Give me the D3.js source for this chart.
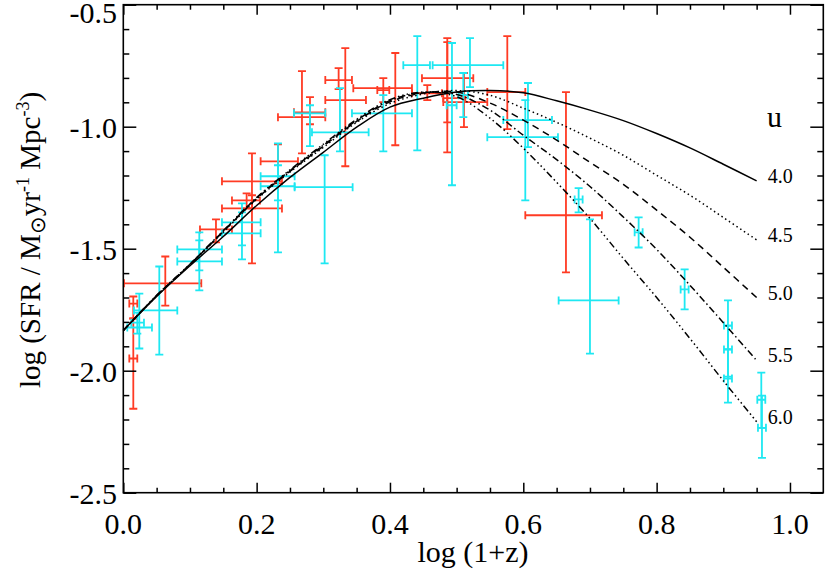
<!DOCTYPE html>
<html>
<head>
<meta charset="utf-8">
<script src="https://cdn.jsdelivr.net/npm/d3@7"></script>
<style>
  body { margin: 0; background: #fff; }
  svg { display: block; }
  text { font-family: "Liberation Serif", "Times New Roman", serif; fill: #000; }
</style>
</head>
<body>
<svg width="830" height="581"></svg>
<script>
// model curves at these log(1+z) values
const curveX = [0, 0.05, 0.1, 0.15, 0.2, 0.25, 0.3, 0.35, 0.4, 0.45, 0.5, 0.55, 0.6, 0.65, 0.7, 0.75, 0.8, 0.85, 0.9, 0.95];
const u40 = [-1.835, -1.696, -1.570, -1.450, -1.323, -1.208, -1.105, -1.002, -0.920, -0.883, -0.858, -0.852, -0.861, -0.894, -0.932, -0.975, -1.028, -1.087, -1.154, -1.222];
const u45 = [-1.835, -1.694, -1.566, -1.432, -1.298, -1.186, -1.085, -0.982, -0.905, -0.866, -0.852, -0.871, -0.924, -0.982, -1.047, -1.117, -1.199, -1.281, -1.372, -1.464];
const u50 = [-1.835, -1.693, -1.565, -1.430, -1.295, -1.183, -1.080, -0.978, -0.898, -0.862, -0.858, -0.903, -0.973, -1.055, -1.146, -1.236, -1.342, -1.453, -1.576, -1.700];
const u55 = [-1.835, -1.692, -1.564, -1.428, -1.292, -1.180, -1.076, -0.974, -0.893, -0.860, -0.868, -0.932, -1.035, -1.135, -1.245, -1.370, -1.503, -1.650, -1.803, -1.958];
const u60 = [-1.835, -1.691, -1.563, -1.426, -1.290, -1.177, -1.072, -0.970, -0.889, -0.858, -0.877, -0.965, -1.088, -1.228, -1.376, -1.540, -1.700, -1.868, -2.041, -2.209];
const uLabels = ["4.0", "4.5", "5.0", "5.5", "6.0"];

// data points: [x, xlo, xhi, y, ylo, yhi]
const redPoints = [
  [0.015, 0.009, 0.021, -1.725, -1.786, -1.696],
  [0.015, 0.009, 0.021, -1.950, -2.156, -1.786],
  [0.063, 0.001, 0.117, -1.642, -1.733, -1.532],
  [0.139, 0.115, 0.163, -1.421, -1.474, -1.380],
  [0.193, 0.148, 0.238, -1.224, -1.335, -1.109],
  [0.193, 0.148, 0.238, -1.335, -1.560, -1.281],
  [0.185, 0.163, 0.205, -1.302, -1.335, -1.273],
  [0.232, 0.206, 0.262, -1.142, -1.232, -1.072],
  [0.268, 0.232, 0.303, -0.961, -1.109, -0.772],
  [0.280, 0.256, 0.303, -0.941, -0.990, -0.879],
  [0.323, 0.303, 0.343, -0.809, -0.846, -0.760],
  [0.333, 0.303, 0.364, -0.891, -1.162, -0.678],
  [0.408, 0.345, 0.433, -0.842, -1.076, -0.698],
  [0.390, 0.381, 0.399, -0.850, -0.899, -0.801],
  [0.456, 0.433, 0.478, -0.863, -0.891, -0.830],
  [0.486, 0.448, 0.525, -0.801, -0.982, -0.637],
  [0.486, 0.480, 0.513, -0.883, -1.105, -0.653],
  [0.511, 0.480, 0.546, -0.899, -1.002, -0.780],
  [0.576, 0.546, 0.603, -0.858, -1.010, -0.629],
  [0.664, 0.603, 0.718, -1.363, -1.597, -0.858]
];
const cyanPoints = [
  [0.054, 0.016, 0.081, -1.753, -1.934, -1.573],
  [0.024, 0.006, 0.043, -1.823, -1.909, -1.684],
  [0.021, 0.012, 0.031, -1.803, -1.848, -1.762],
  [0.114, 0.081, 0.148, -1.503, -1.589, -1.433],
  [0.114, 0.081, 0.148, -1.552, -1.671, -1.466],
  [0.178, 0.148, 0.206, -1.392, -1.486, -1.314],
  [0.178, 0.148, 0.206, -1.437, -1.544, -1.351],
  [0.302, 0.257, 0.344, -1.248, -1.560, -1.117],
  [0.232, 0.206, 0.257, -1.203, -1.515, -1.068],
  [0.232, 0.206, 0.257, -1.244, -1.302, -1.158],
  [0.280, 0.256, 0.303, -0.945, -1.080, -0.912],
  [0.325, 0.283, 0.368, -1.023, -1.101, -0.842],
  [0.390, 0.343, 0.433, -0.945, -1.101, -0.871],
  [0.441, 0.420, 0.460, -0.748, -1.097, -0.629],
  [0.493, 0.485, 0.500, -0.912, -1.240, -0.657],
  [0.520, 0.464, 0.570, -0.748, -0.838, -0.637],
  [0.510, 0.503, 0.517, -0.871, -0.961, -0.780],
  [0.607, 0.570, 0.643, -0.973, -1.084, -0.821],
  [0.603, 0.546, 0.652, -1.043, -1.302, -0.891],
  [0.683, 0.677, 0.689, -1.298, -1.351, -1.252],
  [0.700, 0.653, 0.743, -1.712, -1.930, -1.380],
  [0.773, 0.767, 0.779, -1.433, -1.495, -1.372],
  [0.842, 0.836, 0.848, -1.667, -1.749, -1.585],
  [0.907, 0.901, 0.913, -1.815, -1.913, -1.712],
  [0.907, 0.901, 0.913, -1.913, -2.024, -1.815],
  [0.907, 0.901, 0.913, -2.032, -2.131, -1.913],
  [0.957, 0.951, 0.963, -2.119, -2.234, -2.008],
  [0.958, 0.952, 0.964, -2.234, -2.357, -2.102]
];

const xMajor = [0, 0.2, 0.4, 0.6, 0.8, 1.0];
const yMajor = [-0.5, -1.0, -1.5, -2.0, -2.5];

var svg = d3.select("svg");
var mLeft = 123.3, mRight = 823.3, mTop = 4.7, mBottom = 492.7;

var x = d3.scaleLinear().domain([0, 1.05]).range([mLeft, mRight]);
var y = d3.scaleLinear().domain([-2.5, -0.5]).range([mBottom, mTop]);

var xMinor = d3.range(0, 22).map(function(i) { return i * 0.05; }).filter(function(v) { return Math.round(v * 100) % 20 != 0 && v < 1.04; });
var yMinor = d3.range(0, 21).map(function(i) { return -0.5 - i * 0.1; }).filter(function(v) { return Math.round(v * 100) % 50 != 0; });

//error bars
function draw_points(pts, colour) {
    var g = svg.append("g")
        .attr("stroke", colour)
        .attr("stroke-width", 1.8)
        .attr("fill", "none");
    var cap = 4;
    pts.forEach(function(p) {
        var cx = x(p[0]), cy = y(p[3]);
        var x0 = x(p[1]), x1 = x(p[2]), y0 = y(p[4]), y1 = y(p[5]);
        var path = d3.path();
        // horizontal bar with end caps
        path.moveTo(x0, cy); path.lineTo(x1, cy);
        path.moveTo(x0, cy - cap); path.lineTo(x0, cy + cap);
        path.moveTo(x1, cy - cap); path.lineTo(x1, cy + cap);
        // vertical bar with end caps
        path.moveTo(cx, y0); path.lineTo(cx, y1);
        path.moveTo(cx - cap, y0); path.lineTo(cx + cap, y0);
        path.moveTo(cx - cap, y1); path.lineTo(cx + cap, y1);
        g.append("path").attr("d", path.toString());
    });
}
draw_points(redPoints, "#ff3b24");
draw_points(cyanPoints, "#1ee8f2");

//model curves
var curves = [u40, u45, u50, u55, u60];
var dashes = [null, "1.5,3", "7,5", "7,3,1.5,3", "7,3,1.5,3,1.5,3,1.5,3"];
var line = d3.line()
    .x(function(d, i) { return x(curveX[i]); })
    .y(function(d) { return y(d); })
    .curve(d3.curveCatmullRom);

curves.forEach(function(c, i) {
    svg.append("path")
        .attr("d", line(c))
        .attr("fill", "none")
        .attr("stroke", "#000")
        .attr("stroke-width", 1.5)
        .attr("stroke-dasharray", dashes[i]);
    svg.append("text")
        .attr("x", x(curveX[curveX.length - 1]) + 11)
        .attr("y", y(c[c.length - 1]) + 2)
        .style("font-size", "20px")
        .text(uLabels[i]);
});
svg.append("text")
    .attr("x", 767)
    .attr("y", 127)
    .style("font-size", "30px")
    .text("u");

//axes: ticks inward on all four sides
function ticks(axis, values, size, transform) {
    svg.append("g")
        .attr("transform", transform)
        .call(axis.tickValues(values).tickSizeInner(size).tickSizeOuter(0).tickFormat(""))
        .call(function(g) { g.select(".domain").remove(); })
        .selectAll("line").attr("stroke", "#000").attr("stroke-width", 1.5);
}
ticks(d3.axisBottom(x), xMajor, -10, "translate(0," + mBottom + ")");
ticks(d3.axisBottom(x), xMinor, -5, "translate(0," + mBottom + ")");
ticks(d3.axisTop(x), xMajor, -10, "translate(0," + mTop + ")");
ticks(d3.axisTop(x), xMinor, -5, "translate(0," + mTop + ")");
ticks(d3.axisLeft(y), yMajor, -13, "translate(" + mLeft + ",0)");
ticks(d3.axisLeft(y), yMinor, -6, "translate(" + mLeft + ",0)");
ticks(d3.axisRight(y), yMajor, -13, "translate(" + mRight + ",0)");
ticks(d3.axisRight(y), yMinor, -6, "translate(" + mRight + ",0)");

svg.append("rect")
    .attr("x", mLeft).attr("y", mTop)
    .attr("width", mRight - mLeft).attr("height", mBottom - mTop)
    .attr("fill", "none").attr("stroke", "#000").attr("stroke-width", 1.6);

//tick labels
svg.selectAll(".xlab").data(xMajor).enter().append("text")
    .attr("x", function(d) { return x(d); })
    .attr("y", 533.5)
    .attr("text-anchor", "middle")
    .style("font-size", "30px")
    .text(d3.format(".1f"));
svg.selectAll(".ylab").data(yMajor).enter().append("text")
    .attr("x", 117)
    .attr("y", function(d) { return d == -0.5 ? 23 : y(d) + 11.5; })
    .attr("text-anchor", "end")
    .style("font-size", "30px")
    .text(function(d) { return d3.format(".1f")(d).replace("\u2212", "-"); });

//axis titles
svg.append("text")
    .attr("x", 473)
    .attr("y", 562)
    .attr("text-anchor", "middle")
    .style("font-size", "30px")
    .text("log (1+z)");

var yt = svg.append("text")
    .attr("transform", "translate(40,240) rotate(-90)")
    .attr("text-anchor", "middle")
    .style("font-size", "29px");
yt.append("tspan").text("log (SFR / M");
yt.append("tspan").attr("dy", 5).style("font-size", "21px").text("\u2299");
yt.append("tspan").attr("dy", -5).text("yr");
yt.append("tspan").attr("dy", -11).style("font-size", "18px").text("-1");
yt.append("tspan").attr("dy", 11).text(" Mpc");
yt.append("tspan").attr("dy", -11).style("font-size", "18px").text("-3");
yt.append("tspan").attr("dy", 11).text(")");
</script>
</body>
</html>
